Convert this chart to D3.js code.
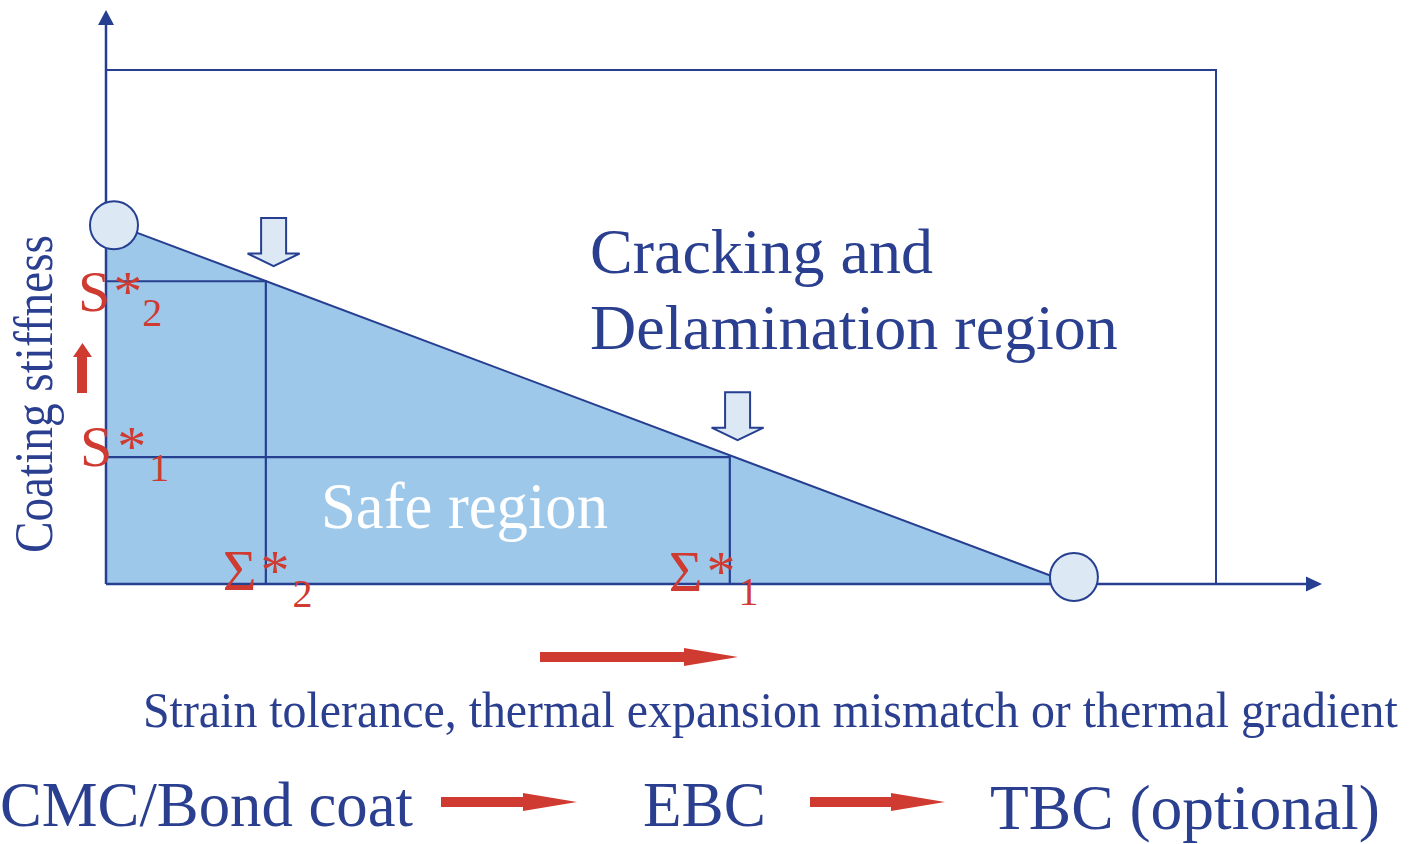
<!DOCTYPE html>
<html><head><meta charset="utf-8">
<script src="https://cdn.jsdelivr.net/npm/d3@7"></script>
<style>html,body{margin:0;padding:0;background:#fff;}svg{display:block;}</style>
</head><body>
<svg id="chart" width="1410" height="844"></svg>
<script>
// ---- data (abstract units: x = strain tolerance 0..100, y = stiffness 0..100) ----
const envelope = [[0, 70.6], [87.1, 0]];            // failure envelope
const endCircles = [[0.72, 69.8], [87.2, 1.36]];    // circles at envelope ends
const stiffnessLevels = [58.9, 24.7];               // S*2, S*1
const strainLevels = [14.4, 56.2];                  // Σ*2, Σ*1
const sNames = ["2", "1"];
const sigmaNames = ["2", "1"];
const downArrowX = [15.1, 56.9];
const regionLabels = ["Cracking and", "Delamination region"];
const safeLabel = "Safe region";
const yLabel = "Coating stiffness";
const xLabel = "Strain tolerance, thermal expansion mismatch or thermal gradient";
const sequence = ["CMC/Bond coat", "EBC", "TBC (optional)"];

// ---- styles ----
const NAVY = "#263f91", TEXT = "#2a3f8f", FILL = "#9dc8ea", LIGHT = "#dce9f4", RED = "#cf3a31";
const SERIF = "'Liberation Serif','Times New Roman',serif";

const svg = d3.select("#chart");
const x = d3.scaleLinear().domain([0, 100]).range([106, 1216]);
const y = d3.scaleLinear().domain([0, 100]).range([584, 70]);

// helper: text drawn at a font size, horizontally scaled to a target width
function fitText(str, px, py, size, width, color, rotate) {
  const g = svg.append("g");
  const t = g.append("text").attr("x", 0).attr("y", 0)
    .attr("font-family", SERIF).attr("font-size", size).attr("fill", color).text(str);
  const w = t.node().getComputedTextLength();
  const k = width / w;
  g.attr("transform", `translate(${px},${py})` + (rotate ? ` rotate(${rotate})` : "") + ` scale(${k},1)`);
  return t;
}

// filled safe triangle
svg.append("path")
  .attr("d", d3.line().x(d => x(d[0])).y(d => y(d[1]))([[0, 0], envelope[0], envelope[1]]))
  .attr("fill", FILL);

// S*/Σ* rectangles
stiffnessLevels.forEach((s, i) => {
  const e = strainLevels[i];
  svg.append("path")
    .attr("d", d3.line().x(d => x(d[0])).y(d => y(d[1]))([[0, s], [e, s], [e, 0]]))
    .attr("fill", "none").attr("stroke", NAVY).attr("stroke-width", 2.2);
});

// envelope line
svg.append("path")
  .attr("d", d3.line().x(d => x(d[0])).y(d => y(d[1]))(envelope))
  .attr("fill", "none").attr("stroke", NAVY).attr("stroke-width", 2);

// boundary box (top and right)
svg.append("path")
  .attr("d", d3.line().x(d => x(d[0])).y(d => y(d[1]))([[0, 100], [100, 100], [100, 0]]))
  .attr("fill", "none").attr("stroke", NAVY).attr("stroke-width", 2);

// axes
const yTopPx = 10, xEndPx = 1322;
svg.append("line").attr("x1", x(0)).attr("y1", y(0)).attr("x2", x(0)).attr("y2", yTopPx + 14)
  .attr("stroke", NAVY).attr("stroke-width", 2.5);
svg.append("path").attr("d", `M${x(0)},${yTopPx} L${x(0) - 8},${yTopPx + 15} L${x(0) + 8},${yTopPx + 15} Z`).attr("fill", NAVY);
svg.append("line").attr("x1", x(0)).attr("y1", y(0)).attr("x2", xEndPx - 14).attr("y2", y(0))
  .attr("stroke", NAVY).attr("stroke-width", 2.5);
svg.append("path").attr("d", `M${xEndPx},${y(0)} L${xEndPx - 16},${y(0) - 7.5} L${xEndPx - 16},${y(0) + 7.5} Z`).attr("fill", NAVY);

// end circles
svg.selectAll("circle.end").data(endCircles).join("circle")
  .attr("cx", d => x(d[0])).attr("cy", d => y(d[1])).attr("r", 24)
  .attr("fill", LIGHT).attr("stroke", NAVY).attr("stroke-width", 2);

// down arrows above envelope
const envY = xv => envelope[0][1] + (envelope[1][1] - envelope[0][1]) * (xv - envelope[0][0]) / (envelope[1][0] - envelope[0][0]);
downArrowX.forEach(xv => {
  const cx = x(xv), tip = y(envY(xv)) - 18;
  const p = [[cx - 12.5, tip - 48], [cx + 12.5, tip - 48], [cx + 12.5, tip - 12.5], [cx + 26, tip - 12.5],
             [cx, tip], [cx - 26, tip - 12.5], [cx - 12.5, tip - 12.5]];
  svg.append("path").attr("d", "M" + p.map(q => q.join(",")).join("L") + "Z")
    .attr("fill", LIGHT).attr("stroke", NAVY).attr("stroke-width", 2).attr("stroke-linejoin", "miter");
});

// red arrows
function hArrow(x0, x1, cy, headLen, shaftH, headH) {
  svg.append("path").attr("d",
    `M${x0},${cy - shaftH / 2}L${x1 - headLen},${cy - shaftH / 2}L${x1 - headLen},${cy - headH / 2}` +
    `L${x1},${cy}L${x1 - headLen},${cy + headH / 2}L${x1 - headLen},${cy + shaftH / 2}L${x0},${cy + shaftH / 2}Z`)
    .attr("fill", RED);
}
hArrow(540, 738, 657, 54, 10, 18);
hArrow(441, 577, 802, 54, 10, 18);
hArrow(810, 945, 802, 54, 10, 18);
// up arrow
svg.append("path").attr("d", "M77,393L77,357L73,357L82.5,343L92,357L87,357L87,393Z").attr("fill", RED);

// S* labels
const sOff = [{dx: -28, dy: 30, sx: 3, subDx: 0}, {dx: -26, dy: 9, sx: 5, subDx: 3}];
stiffnessLevels.forEach((s, i) => {
  const o = sOff[i];
  const t = svg.append("text").attr("x", x(0) + o.dx).attr("y", y(s) + o.dy)
    .attr("font-family", SERIF).attr("fill", RED).attr("font-size", 58);
  t.append("tspan").text("S");
  t.append("tspan").attr("dx", o.sx).text("*");
  t.append("tspan").attr("dx", o.subDx).attr("dy", 15).attr("font-size", 40).text(sNames[i]);
});
// Σ* labels
const eOff = [{dx: -43, base: 590, subDx: 3, subDy: 17}, {dx: -61, base: 591, subDx: 3, subDy: 14}];
strainLevels.forEach((e, i) => {
  const o = eOff[i];
  const t = svg.append("text").attr("x", x(e) + o.dx).attr("y", o.base)
    .attr("font-family", SERIF).attr("fill", RED).attr("font-size", 58);
  t.append("tspan").text("Σ");
  t.append("tspan").attr("dx", 4).text("*");
  t.append("tspan").attr("dx", o.subDx).attr("dy", o.subDy).attr("font-size", 40).text(sigmaNames[i]);
});

// region labels
svg.append("text").attr("x", 590).attr("y", 273).attr("font-family", SERIF).attr("font-size", 64)
  .attr("fill", TEXT).text(regionLabels[0]);
svg.append("text").attr("x", 590).attr("y", 349).attr("font-family", SERIF).attr("font-size", 64)
  .attr("fill", TEXT).text(regionLabels[1]);
fitText(safeLabel, 321, 528, 65, 287, "#ffffff");

// axis labels
fitText(yLabel, 52, 553, 55, 318, TEXT, -90);
fitText(xLabel, 143, 727, 51, 1255, TEXT);

// bottom sequence
const seqPos = [{x: 0, y: 826, w: 413}, {x: 643, y: 826, w: 123}, {x: 990, y: 829, w: 390}];
sequence.forEach((s, i) => fitText(s, seqPos[i].x, seqPos[i].y, 64, seqPos[i].w, TEXT));
</script>
</body></html>
